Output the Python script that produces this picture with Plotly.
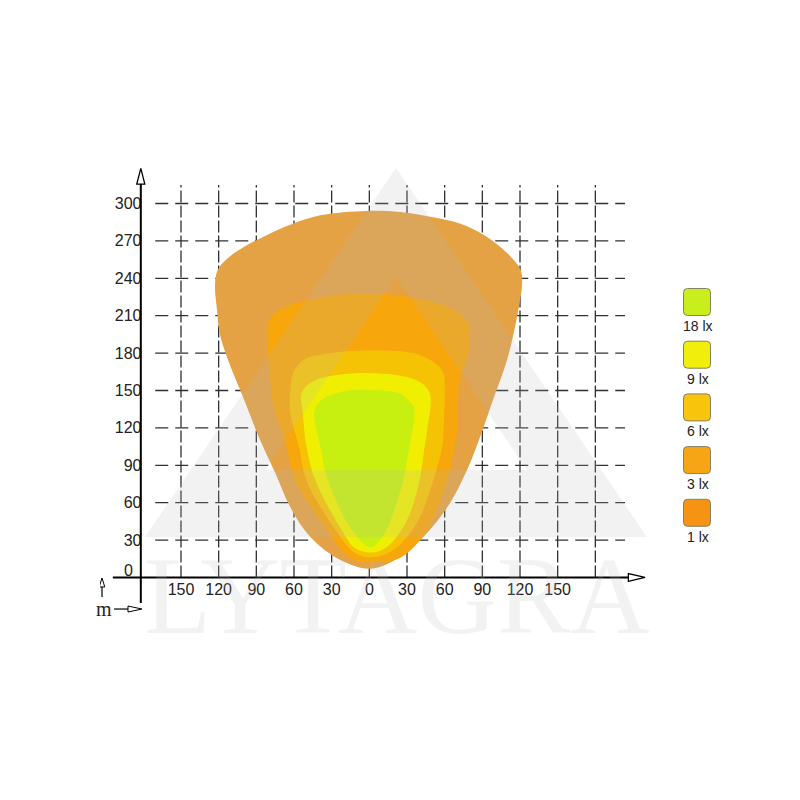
import plotly.graph_objects as go

# ---------------- data ----------------
x_tick_vals = [-150, -120, -90, -60, -30, 0, 30, 60, 90, 120, 150]
x_tick_text = ["150", "120", "90", "60", "30", "0", "30", "60", "90", "120", "150"]
y_tick_vals = [30, 60, 90, 120, 150, 180, 210, 240, 270, 300]
y_tick_text = ["30", "60", "90", "120", "150", "180", "210", "240", "270", "300"]
grid_x = [-150, -120, -90, -60, -30, 0, 30, 60, 90, 120, 150, 180]
grid_y = [30, 60, 90, 120, 150, 180, 210, 240, 270, 300]

levels = ["1 lx", "3 lx", "6 lx", "9 lx", "18 lx"]
fill_colors = ["#E4A244", "#F7A60C", "#F6C304", "#F0EF02", "#C7EF10"]
legend_colors = ["#F59313", "#F6A514", "#F8C40C", "#F2EE0B", "#C9EE1E"]

# isolux outlines (metres): left side bottom->top, over the top, right side top->bottom
lx1_x = [1, -23, -47, -63, -75, -87, -100.6, -111, -118.9, -121.3, -122.9, -121, -114, -100, -81, -63,
         -39, -2, 24.5, 50.7, 72, 91, 109.5, 120.5, 121.6, 120, 116, 109.7, 98.5, 88.2, 77.8, 64.3, 46, 24.5]
lx1_y = [7, 14, 32.5, 56.5, 84, 110.3, 144.8, 170.4, 194.5, 214.6, 234.6, 246, 255, 265, 275, 283,
         290.5, 294, 293.2, 289, 284, 275, 260.5, 246.6, 234.6, 222.6, 200.9, 174.5, 142.4, 112.7, 86.2, 59.8, 35.7, 16.4]

lx3_x = [1, -16, -34, -59, -66, -75, -79, -81, -81.5, -80, -71, -47, -7, 32, 67, 78.6, 80, 77.6, 72, 70, 68, 62, 46, 25]
lx3_y = [12, 16, 38, 78, 105, 132, 158, 185, 198, 206, 215, 223, 228, 225, 215, 204, 193, 174.5, 158, 118, 105, 78, 38, 16]

lx6_x = [1, -12, -27, -50, -56, -63, -63, -60.5, -52.6, -34, 1, 40, 58, 60, 59, 58, 51, 38, 19]
lx6_y = [16, 20, 38, 78, 105, 132, 150, 164, 174.5, 179.5, 182, 178.5, 166, 150, 118, 105, 78, 44, 22]

lx9_x = [1, -12, -22, -43, -50, -53, -54, -47, -34, 1, 38, 48, 46, 44, 40, 30, 14]
lx9_y = [20, 24, 38, 78, 105, 132, 148, 156, 161, 164, 158, 148, 118, 105, 78, 46, 24.5]

lx18_x = [1, -14, -33, -39, -44, -40.6, -34, -18, 1, 24.5, 31, 35.5, 36, 32, 27, 17, 8.5]
lx18_y = [24, 38, 78, 105, 132, 139.7, 145, 149.8, 150.4, 147.5, 142, 137, 130, 105, 78, 46, 30]

outlines = [(lx1_x, lx1_y), (lx3_x, lx3_y), (lx6_x, lx6_y), (lx9_x, lx9_y), (lx18_x, lx18_y)]

# ---------------- layout geometry ----------------
W = H = 800
PAGE_OFF = 8                      # default page margin around the plot div
ML, MR, MT, MB = 100, 140, 150, 180  # in screenshot pixels
X_RANGE = [-214.5, 231.5]
Y_RANGE = [-34.1, 342.9]


def paper_x(px):
    return (px - ML) / (W - ML - MR)


def paper_y(py):
    return (H - MB - py) / (H - MT - MB)


fig = go.Figure()

for (xs, ys), col, name in zip(outlines, fill_colors, levels):
    fig.add_trace(go.Scatter(
        x=xs + [xs[0]], y=ys + [ys[0]], mode="lines", fill="toself",
        fillcolor=col, line=dict(width=0, color=col, shape="spline", smoothing=1.0),
        name=name, hoverinfo="skip", showlegend=False))

shapes = []
grid_line = dict(color="#303030", width=1.3)
for gy in grid_y:
    shapes.append(dict(type="line", xref="x", yref="y", layer="below",
                       x0=-170.5, x1=203.6, y0=gy, y1=gy,
                       line=dict(grid_line, dash="13px,7px")))
for gx in grid_x:
    shapes.append(dict(type="line", xref="x", yref="y", layer="below",
                       x0=gx, x1=gx, y0=0, y1=314.8,
                       line=dict(grid_line, dash="12px,3px")))

# watermark triangle logo (with a triangular hole)
wm = "rgba(186,186,186,0.19)"
shapes.append(dict(type="path", xref="x", yref="y", layer="above", fillrule="evenodd",
                   path="M 21.3 328.5 L 221 32.5 L -178.6 32.5 Z M 21.3 241 L 125.6 86.2 L -83.1 86.2 Z",
                   fillcolor=wm, line=dict(width=0)))

axis_line = dict(color="#000000", width=2)
# y axis + arrow
shapes.append(dict(type="line", xref="x", yref="y", layer="above",
                   x0=-182, x1=-182, y0=-20.5, y1=315.6, line=axis_line))
shapes.append(dict(type="path", xref="x", yref="y", layer="above",
                   path="M -185.2 315.6 L -182 328.2 L -178.8 315.6 Z",
                   fillcolor="white", line=dict(color="#000000", width=1.3)))
# x axis + arrow
shapes.append(dict(type="line", xref="x", yref="y", layer="above",
                   x0=-204.3, x1=206.3, y0=0, y1=0, line=axis_line))
shapes.append(dict(type="path", xref="x", yref="y", layer="above",
                   path="M 206.3 -3.2 L 219.6 0 L 206.3 3.2 Z",
                   fillcolor="white", line=dict(color="#000000", width=1.3)))
# small "m" unit arrows
shapes.append(dict(type="line", xref="x", yref="y", layer="above",
                   x0=-212.9, x1=-212.9, y0=-15.6, y1=-7.6, line=dict(color="#000", width=1.2)))
shapes.append(dict(type="path", xref="x", yref="y", layer="above",
                   path="M -215.1 -7.6 L -212.9 -0.4 L -210.7 -7.6 Z",
                   fillcolor="white", line=dict(color="#000", width=1)))
shapes.append(dict(type="line", xref="x", yref="y", layer="above",
                   x0=-203.3, x1=-192.2, y0=-25.3, y1=-25.3, line=dict(color="#000", width=1.2)))
shapes.append(dict(type="path", xref="x", yref="y", layer="above",
                   path="M -192.2 -22.9 L -181.1 -25.3 L -192.2 -27.7 Z",
                   fillcolor="white", line=dict(color="#000", width=1)))

# legend swatches (rounded squares)
annotations = []
sw_left, sw_size, sw_top0, sw_step, r = 683.5, 27, 288.5, 52.7, 4
for i, (name, col) in enumerate(zip(levels[::-1], legend_colors[::-1])):
    top = sw_top0 + i * sw_step
    x0, x1 = paper_x(sw_left), paper_x(sw_left + sw_size)
    y0, y1 = paper_y(top + sw_size), paper_y(top)
    rx = r / (W - ML - MR)
    ry = r / (H - MT - MB)
    p = (f"M {x0+rx} {y0} L {x1-rx} {y0} Q {x1} {y0} {x1} {y0+ry} L {x1} {y1-ry} "
         f"Q {x1} {y1} {x1-rx} {y1} L {x0+rx} {y1} Q {x0} {y1} {x0} {y1-ry} "
         f"L {x0} {y0+ry} Q {x0} {y0} {x0+rx} {y0} Z")
    shapes.append(dict(type="path", xref="paper", yref="paper", layer="above", path=p,
                       fillcolor=col, line=dict(color="#85806a", width=1)))
    annotations.append(dict(xref="paper", yref="paper", x=paper_x(698), y=paper_y(top + 37.5),
                            text=name, showarrow=False, xanchor="center", yanchor="middle",
                            font=dict(family="Liberation Sans, Arial", size=14, color="#222")))

annotations.append(dict(xref="x", yref="y", x=-192, y=6, text="0", showarrow=False,
                        xanchor="center", yanchor="middle",
                        font=dict(family="Liberation Sans, Arial", size=16, color="#222")))
annotations.append(dict(xref="x", yref="y", x=-211.5, y=-25, text="m", showarrow=False,
                        xanchor="center", yanchor="middle",
                        font=dict(family="Liberation Serif, Times New Roman", size=20, color="#222")))
annotations.append(dict(xref="paper", yref="paper", x=paper_x(397), y=paper_y(596),
                        text="LYTAGRA", showarrow=False, xanchor="center", yanchor="middle",
                        font=dict(family="Liberation Serif, Times New Roman", size=110, color=wm)))

fig.update_layout(
    width=W, height=H,
    margin=dict(l=ML - PAGE_OFF, r=MR + PAGE_OFF, t=MT - PAGE_OFF, b=MB + PAGE_OFF),
    paper_bgcolor="white", plot_bgcolor="white", showlegend=False,
    shapes=shapes, annotations=annotations,
    xaxis=dict(range=X_RANGE, tickvals=x_tick_vals, ticktext=x_tick_text,
               showgrid=False, zeroline=False, showline=False, ticks="",
               anchor="free", position=paper_y(577.5),
               tickfont=dict(family="Liberation Sans, Arial", size=16, color="#222")),
    yaxis=dict(range=Y_RANGE, tickvals=y_tick_vals, ticktext=y_tick_text,
               showgrid=False, zeroline=False, showline=False, ticks="",
               anchor="free", position=paper_x(141.5),
               tickfont=dict(family="Liberation Sans, Arial", size=16, color="#222")),
)

fig.write_html("out.html")
